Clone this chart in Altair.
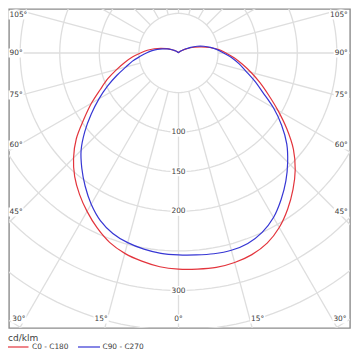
import math
import altair as alt
import pandas as pd

# ---------------- data (cd/klm) ----------------
angles = list(range(0, 181, 5))  # gamma angle from nadir
c0 = [273, 274, 275, 274, 271, 265, 254.5, 240.5, 225, 208.5, 189.5, 167, 145, 125.5,
      109.5, 95, 82, 71, 60, 51, 40, 30, 22, 15, 9, 6, 4, 3, 2, 1.5, 1, 1, 0.5, 0.5, 0, 0, 0]
c180 = [272.5, 271, 267, 262, 254.5, 243.5, 231, 218, 204, 187.5, 168.5, 146, 127, 109,
        95, 81, 69, 58.5, 48, 39.5, 31, 23, 16, 11, 7, 5, 3, 2, 1.5, 1, 1, 0.5, 0.5, 0, 0, 0, 0]
c90 = [255, 256, 257.5, 258, 256, 250, 240, 226, 211, 195, 178.5, 159, 138.5, 117.5,
       102, 88, 77.5, 67.5, 57, 49, 41, 33, 25, 17, 10, 6, 4, 3, 2, 1.5, 1, 1, 0.5, 0.5, 0, 0, 0]
c270 = [255, 254, 251.5, 248, 242.5, 233.5, 220.5, 205.5, 190, 174, 154.5, 134.5, 116, 99,
        83, 69, 59, 48.5, 40.5, 33.5, 27, 20.5, 15, 10.5, 7, 5, 3, 2, 1.5, 1, 1, 0.5, 0.5, 0, 0, 0, 0]

series_names = ["C0 - C180", "C90 - C270"]
series_colors = ["#e3343c", "#3636d4"]
unit_label = "cd/klm"

ring_values = [50, 100, 150, 200, 250, 300, 350, 400, 450]
ring_labels = [100, 150, 200, 300]
spoke_step = 15
side_labels = [105, 90, 75, 60, 45]
side_label_py = [15, 53, 95, 145, 212]
bottom_labels = [30, 15]

# ---------------- geometry (page pixels) ----------------
K = 0.7917               # px per cd/klm
CX, CY = 178.5, 53.0     # pole position
PX0, PX1, PY0, PY1 = 9, 350, 9, 328
W, H = PX1 - PX0, PY1 - PY0
FS = 7.4
DIG = 0.636 * FS
DEG = 0.5 * FS
TXT = "#404040"
GRID = "#dedede"


def X(px):
    return (px - CX) / K


def Y(py):
    return (CY - py) / K


xs = alt.Scale(domain=[X(PX0), X(PX1)], nice=False, zero=False)
ys = alt.Scale(domain=[Y(PY1), Y(PY0)], nice=False, zero=False)


def enc(chart, x="x", y="y", **kw):
    return chart.encode(x=alt.X(f"{x}:Q", scale=xs, axis=None),
                        y=alt.Y(f"{y}:Q", scale=ys, axis=None), **kw)


# rings
ring_rows = []
for rv in ring_values:
    for i in range(0, 181):
        a = math.radians(i * 2)
        ring_rows.append({"ring": rv, "i": i, "x": rv * math.sin(a), "y": rv * math.cos(a)})
rings = enc(alt.Chart(pd.DataFrame(ring_rows)).mark_line(clip=True, color=GRID, strokeWidth=1.3),
            detail="ring:N", order="i:Q")

# spokes
sp_rows = []
for d in range(0, 360, spoke_step):
    a = math.radians(d)
    sp_rows.append({"x": 50 * math.sin(a), "y": -50 * math.cos(a),
                    "x2": 460 * math.sin(a), "y2": -460 * math.cos(a)})
spokes = alt.Chart(pd.DataFrame(sp_rows)).mark_rule(clip=True, color=GRID, strokeWidth=1.3).encode(
    x=alt.X("x:Q", scale=xs, axis=None), y=alt.Y("y:Q", scale=ys, axis=None),
    x2="x2:Q", y2="y2:Q")

# labels
left_rows, right_rows, center_rows, boxes = [], [], [], []


def tw(t):
    return (len(t) - (1 if t.endswith("°") else 0)) * DIG + (DEG if t.endswith("°") else 0)


RX = 347.8
for lab, py in zip(side_labels, side_label_py):
    t = f"{lab}°"
    w = tw(t)
    left_rows.append({"x": X(PX0 + 0.5), "y": Y(py), "t": t})
    boxes.append({"x": X(PX0 + 0.5 - 1), "x2": X(PX0 + 0.5 + w + 1), "y": Y(py - 4.5), "y2": Y(py + 4.5)})
    right_rows.append({"x": X(RX), "y": Y(py), "t": t})
    boxes.append({"x": X(RX - w - 1), "x2": X(RX + 1), "y": Y(py - 4.5), "y2": Y(py + 4.5)})

BY = 319
for lab in bottom_labels:
    t = f"{lab}°"
    w = tw(t)
    off = (BY - CY) * math.tan(math.radians(lab))
    xl = CX - off + 0.5
    right_rows.append({"x": X(xl), "y": Y(BY), "t": t})
    boxes.append({"x": X(xl - w - 1), "x2": X(xl + 1), "y": Y(BY - 4.5), "y2": Y(BY + 4.5)})
    xr = CX + off + 1.3
    left_rows.append({"x": X(xr), "y": Y(BY), "t": t})
    boxes.append({"x": X(xr - 1), "x2": X(xr + w + 1), "y": Y(BY - 4.5), "y2": Y(BY + 4.5)})

t = "0°"
w = tw(t)
center_rows.append({"x": 0, "y": Y(BY), "t": t})
boxes.append({"x": X(CX - w / 2 - 1), "x2": X(CX + w / 2 + 1), "y": Y(BY - 4.5), "y2": Y(BY + 4.5)})
for rv in ring_labels:
    t = str(rv)
    w = tw(t)
    center_rows.append({"x": 0, "y": -rv, "t": t})
    boxes.append({"x": X(CX - w / 2 - 1), "x2": X(CX + w / 2 + 1), "y": -rv + 4.5 / K, "y2": -rv - 4.5 / K})

box_layer = alt.Chart(pd.DataFrame(boxes)).mark_rect(color="white").encode(
    x=alt.X("x:Q", scale=xs, axis=None), y=alt.Y("y:Q", scale=ys, axis=None),
    x2="x2:Q", y2="y2:Q")


def text_layer(rows, align):
    return enc(alt.Chart(pd.DataFrame(rows)).mark_text(
        align=align, baseline="middle", font="DejaVu Sans", fontSize=FS, color=TXT), text="t:N")


# curves
cur_rows = []
for name, right, left in [(series_names[0], c0, c180), (series_names[1], c90, c270)]:
    k = 0
    for a, r in reversed(list(zip(angles, right))):
        ra = math.radians(a)
        cur_rows.append({"s": name, "k": k, "x": r * math.sin(ra), "y": -r * math.cos(ra)})
        k += 1
    for a, r in list(zip(angles, left))[1:]:
        ra = math.radians(a)
        cur_rows.append({"s": name, "k": k, "x": -r * math.sin(ra), "y": -r * math.cos(ra)})
        k += 1
curves = enc(alt.Chart(pd.DataFrame(cur_rows)).mark_line(strokeWidth=1.2, interpolate="catmull-rom"),
             color=alt.Color("s:N", scale=alt.Scale(domain=series_names, range=series_colors), legend=None),
             order="k:Q")

# manual legend below the frame
LY = 347
leg_lines = pd.DataFrame([
    {"s": series_names[0], "x": X(PX0 - 1), "x2": X(28.5), "y": Y(LY)},
    {"s": series_names[1], "x": X(78), "x2": X(100), "y": Y(LY)},
])
leg_rule = alt.Chart(leg_lines).mark_rule(strokeWidth=1.2, clip=False).encode(
    x=alt.X("x:Q", scale=xs, axis=None), x2="x2:Q", y=alt.Y("y:Q", scale=ys, axis=None),
    color=alt.Color("s:N", scale=alt.Scale(domain=series_names, range=series_colors), legend=None))
leg_text = enc(alt.Chart(pd.DataFrame([
    {"x": X(32), "y": Y(LY), "t": series_names[0]},
    {"x": X(102.5), "y": Y(LY), "t": series_names[1]},
])).mark_text(align="left", baseline="middle", font="DejaVu Sans", fontSize=FS, color=TXT, clip=False),
    text="t:N")
leg_title = enc(alt.Chart(pd.DataFrame([{"x": X(PX0 - 1), "y": Y(338), "t": unit_label}])).mark_text(
    align="left", baseline="middle", font="DejaVu Sans", fontSize=9, color=TXT, clip=False), text="t:N")

chart = alt.layer(
    rings, spokes, box_layer,
    text_layer(left_rows, "left"), text_layer(right_rows, "right"), text_layer(center_rows, "center"),
    curves, leg_rule, leg_text, leg_title,
).properties(
    width=W, height=H,
    autosize=alt.AutoSizeParams(type="none"),
    padding={"left": 1, "top": 1, "right": 1, "bottom": 23},
).configure_view(stroke="#8c8c8c", strokeWidth=1.4)

chart.save("out.html", embed_options={"renderer": "svg", "actions": False})
